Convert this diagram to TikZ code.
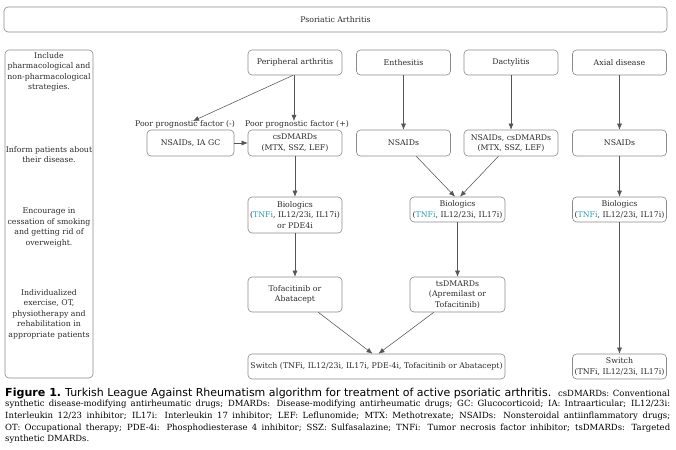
\documentclass[tikz,border=0pt]{standalone}
\usepackage{fontspec}
\usepackage{graphicx}
\usetikzlibrary{arrows.meta,positioning,calc}
\newfontfamily\nf{DejaVu Serif}
\newfontfamily\capsans{DejaVu Sans}
\newfontfamily\capbold{DejaVu Sans}
\definecolor{boxgray}{HTML}{8A8A8A}
\definecolor{txt}{HTML}{2A2A2A}
\definecolor{tnf}{HTML}{2A9FB8}
\definecolor{arr}{HTML}{555555}
\newcommand{\tnfi}{\textcolor{tnf}{TNFi}}
\newcommand{\capfont}{\nf\fontsize{8.5}{10}\selectfont}
\tikzset{
  box/.style={draw=boxgray, line width=0.6pt, rounded corners=4pt, align=center,
    inner sep=1pt, text=txt, font=\nf\fontsize{7.8}{10.5}\selectfont},
  lbl/.style={inner sep=0pt, align=center, text=txt, font=\nf\fontsize{7.8}{10.5}\selectfont},
  conn/.style={draw=arr, line width=0.55pt, -{Latex[length=6pt,width=5pt]}},
  capline/.style={inner sep=0pt, anchor=base west, text=black}
}
\begin{document}
\begin{tikzpicture}[x=1pt,y=-1pt]
\useasboundingbox (0,0) rectangle (676,449);
% top
\node[box, minimum width=663pt, minimum height=25pt] (top) at (335.5,19.5) {Psoriatic Arthritis};
% left column
\node[box, minimum width=88pt, minimum height=328pt] (left) at (49,214) {};
\node[lbl] (l1) at (49,72) {Include\\pharmacological and\\non-pharmacological\\strategies.};
\node[lbl] (l2) at (49,154.5) {Inform patients about\\their disease.};
\node[lbl] (l3) at (49,227.5) {Encourage in\\cessation of smoking\\and getting rid of\\overweight.};
\node[lbl] (l4) at (49,314) {Individualized\\exercise, OT,\\physiotherapy and\\rehabilitation in\\appropriate patients};
% row 1
\node[box, minimum width=94pt, minimum height=25pt] (pa) at (295,62.5) {Peripheral arthritis};
\node[box, minimum width=94pt, minimum height=25pt] (en) at (403.5,62.5) {Enthesitis};
\node[box, minimum width=94pt, minimum height=25pt] (da) at (511,62.5) {Dactylitis};
\node[box, minimum width=94pt, minimum height=25pt] (ax) at (619.5,62.5) {Axial disease};
% labels
\node[lbl] (ppm) at (185,124) {Poor prognostic factor (-)};
\node[lbl] (ppp) at (297,124) {Poor prognostic factor (+)};
% row 2
\node[box, minimum width=87pt, minimum height=26pt] (nsg) at (190.5,143) {NSAIDs, IA GC};
\node[box, minimum width=94pt, minimum height=26pt] (cs) at (295,143) {csDMARDs\\(MTX, SSZ, LEF)};
\node[box, minimum width=94pt, minimum height=26pt] (ns2) at (403.5,143) {NSAIDs};
\node[box, minimum width=94pt, minimum height=26pt] (nc) at (511,143) {NSAIDs, csDMARDs\\(MTX, SSZ, LEF)};
\node[box, minimum width=94pt, minimum height=26pt] (ns4) at (619.5,143) {NSAIDs};
% row 3
\node[box, minimum width=94pt, minimum height=36pt] (bio1) at (295,215) {Biologics\\(\tnfi, IL12/23i, IL17i)\\or PDE4i};
\node[box, minimum width=95pt, minimum height=25pt] (bio2) at (457.5,209.5) {Biologics\\(\tnfi, IL12/23i, IL17i)};
\node[box, minimum width=94pt, minimum height=25pt] (bio4) at (619.5,209.5) {Biologics\\(\tnfi, IL12/23i, IL17i)};
% row 4
\node[box, minimum width=94pt, minimum height=35pt] (tof) at (295,294.5) {Tofacitinib or\\Abatacept};
\node[box, minimum width=95pt, minimum height=35pt] (ts) at (457.5,294.5) {tsDMARDs\\(Apremilast or\\Tofacitinib)};
% row 5
\node[box, minimum width=257pt, minimum height=25pt] (sw) at (376.5,366.5) {Switch (TNFi, IL12/23i, IL17i, PDE-4i, Tofacitinib or Abatacept)};
\node[box, minimum width=94pt, minimum height=25pt] (sw4) at (619.5,366.5) {Switch\\(TNFi, IL12/23i, IL17i)};
% connectors
\draw[conn] ([xshift=-2pt]pa.south) -- ([xshift=8pt,yshift=-1pt]ppm.north);
\draw[conn] ([xshift=-1pt]pa.south) -- ([xshift=-1pt,yshift=-1pt]pa.south |- ppp.north);
\draw[conn] (nsg.east) -- (cs.west);
\draw[conn] (cs) -- (bio1);
\draw[conn] (bio1) -- (tof);
\draw[conn] (en) -- (ns2);
\draw[conn] (da) -- (nc);
\draw[conn] (ax) -- (ns4);
\draw[conn] (ns4) -- (bio4);
\draw[conn] (bio4) -- (sw4);
\draw[conn] (bio2) -- (ts);
\draw[conn] (ns2) -- ([xshift=-2.5pt]bio2.north);
\draw[conn] (nc) -- ([xshift=2.5pt]bio2.north);
\draw[conn] (tof) -- ([xshift=-4pt]sw.north);
\draw[conn] (ts) -- ([xshift=2pt]sw.north);
% caption
\node[capline] (c1a) at (5,396.7) {\resizebox{56pt}{!}{\capbold\bfseries Figure 1.}};
\node[capline] (c1b) at (65,396.7) {\resizebox{486pt}{!}{\capsans Turkish League Against Rheumatism algorithm for treatment of active psoriatic arthritis.}};
\node[capline, anchor=base east] (c1c) at (670,396.7) {\capfont csDMARDs: Conventional};
\node[capline] (c2) at (5,406.8) {\capfont\hbox to 665pt{synthetic disease-modifying antirheumatic drugs; DMARDs: Disease-modifying antirheumatic drugs; GC: Glucocorticoid; IA: Intraarticular; IL12/23i:}};
\node[capline] (c3) at (5,418.3) {\capfont\hbox to 665pt{Interleukin 12/23 inhibitor; IL17i: Interleukin 17 inhibitor; LEF: Leflunomide; MTX: Methotrexate; NSAIDs: Nonsteroidal antiinflammatory drugs;}};
\node[capline] (c4) at (5,430) {\capfont\hbox to 665pt{OT: Occupational therapy; PDE-4i: Phosphodiesterase 4 inhibitor; SSZ: Sulfasalazine; TNFi: Tumor necrosis factor inhibitor; tsDMARDs: Targeted}};
\node[capline] (c5) at (5,441.7) {\capfont synthetic DMARDs.};
\end{tikzpicture}
\end{document}
